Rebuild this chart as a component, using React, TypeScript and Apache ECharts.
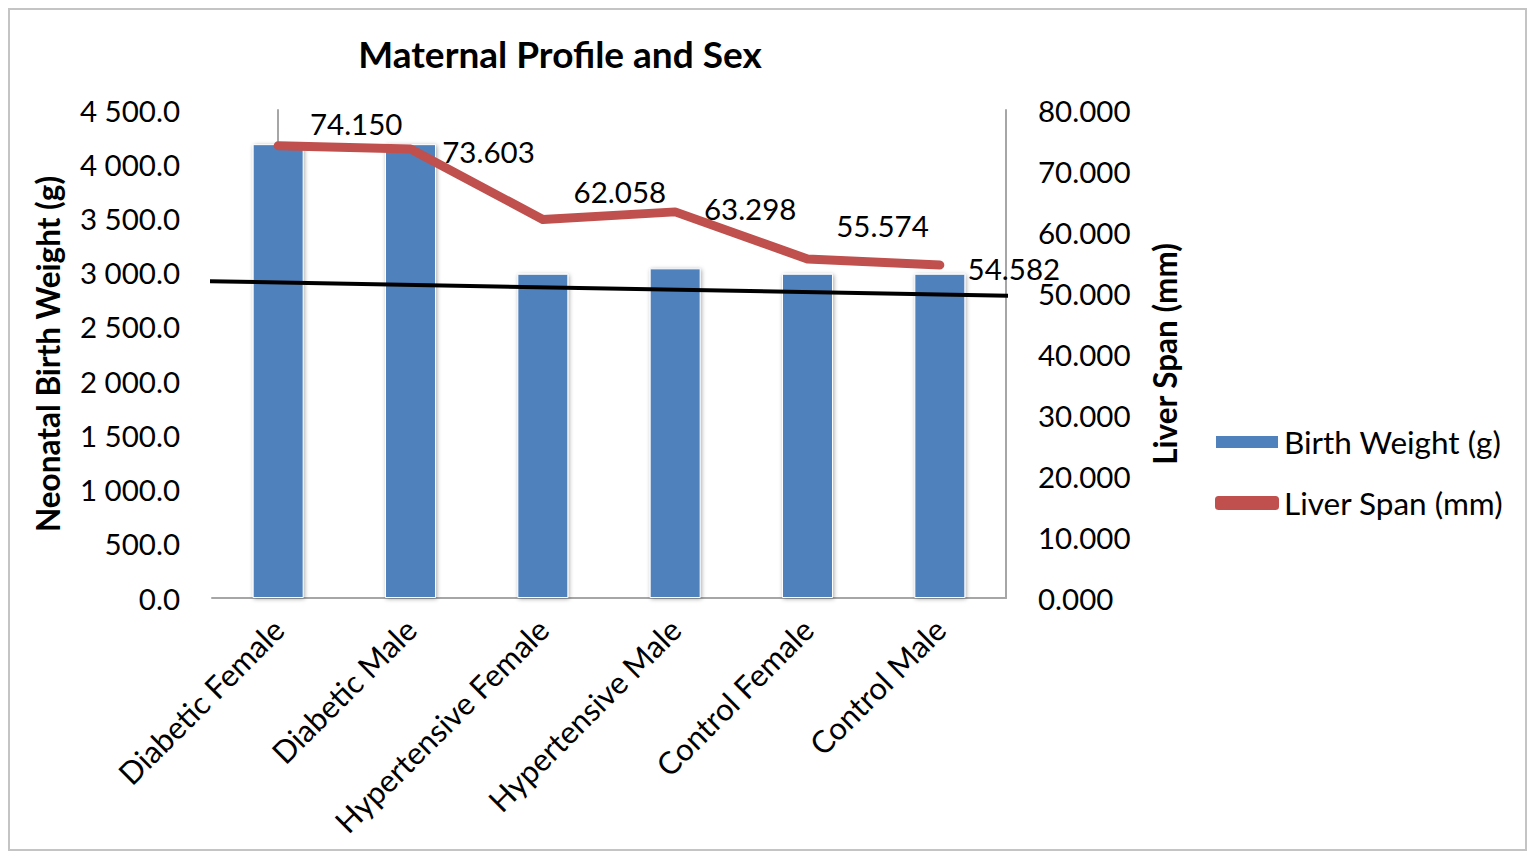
import React, { useEffect, useRef } from "react";
import * as echarts from "echarts";

const categories = [
  "Diabetic Female",
  "Diabetic Male",
  "Hypertensive Female",
  "Hypertensive Male",
  "Control Female",
  "Control Male",
];
const birthWeight = [4185, 4185, 2990, 3040, 2990, 2990];
const liverSpan = [74.15, 73.603, 62.058, 63.298, 55.574, 54.582];
const trendX = [-0.53, 5.53];
const trendY = [2922, 2786];
const labelOffsets = [
  [78, -22],
  [78, 2],
  [77, -28],
  [75, -3],
  [75, -33],
  [74, 3],
];

const FONT = "Lato";

function fmtLeft(v: number) {
  const s = v.toFixed(1);
  const [i, d] = s.split(".");
  return i.replace(/\B(?=(\d{3})+(?!\d))/g, " ") + "." + d;
}

export default function App() {
  const ref = useRef<HTMLDivElement>(null);
  useEffect(() => {
    if (!ref.current) return;
    const chart = echarts.init(ref.current, undefined, { renderer: "svg" });
    chart.setOption({
      animation: false,
      backgroundColor: "#fff",
      textStyle: { fontFamily: FONT, color: "#000" },
      title: {
        text: "Maternal Profile and Sex",
        left: 545,
        top: 20,
        textAlign: "center",
        textStyle: { fontFamily: FONT, fontSize: 37, fontWeight: "bold", color: "#000" },
      },
      legend: {
        orient: "vertical",
        left: 1199,
        top: 411,
        itemWidth: 64,
        itemHeight: 14,
        itemGap: 29,
        textStyle: { fontFamily: FONT, fontSize: 31.5, color: "#000", padding: [0, 0, 0, 0] },
        data: [
          { name: "Birth Weight (g)", icon: "rect" },
          { name: "Liver Span (mm)", icon: "roundRect" },
        ],
      },
      grid: { left: 202, top: 100, width: 794, height: 488, containLabel: false },
      xAxis: [
        {
          type: "category",
          data: categories,
          axisLine: { lineStyle: { color: "#a6a6a6", width: 2 } },
          axisTick: { show: false },
          axisLabel: {
            rotate: 45,
            interval: 0,
            margin: 26,
            fontSize: 31,
            color: "#000",
            fontFamily: FONT,
          },
        },
        {
          type: "value",
          min: -0.5,
          max: 5.5,
          show: false,
          position: "bottom",
        },
      ],
      yAxis: [
        {
          type: "value",
          min: 0,
          max: 4500,
          interval: 500,
          name: "Neonatal Birth Weight (g)",
          nameLocation: "middle",
          nameGap: 148,
          nameTextStyle: { fontFamily: FONT, fontSize: 31.5, fontWeight: "bold", color: "#000" },
          axisLine: { show: true, lineStyle: { color: "#a6a6a6", width: 2 } },
          axisTick: { show: false },
          splitLine: { show: false },
          axisLabel: {
            margin: 32,
            fontSize: 29.5,
            color: "#000",
            fontFamily: FONT,
            formatter: (v: number) => fmtLeft(v),
          },
        },
        {
          type: "value",
          min: 0,
          max: 80,
          interval: 10,
          name: "Liver Span (mm)",
          nameLocation: "middle",
          nameGap: 143,
          nameTextStyle: { fontFamily: FONT, fontSize: 31.5, fontWeight: "bold", color: "#000" },
          axisLine: { show: true, lineStyle: { color: "#a6a6a6", width: 2 } },
          axisTick: { show: false },
          splitLine: { show: false },
          axisLabel: {
            margin: 32,
            fontSize: 29.5,
            color: "#000",
            fontFamily: FONT,
            formatter: (v: number) => v.toFixed(3),
          },
        },
      ],
      series: [
        {
          name: "Birth Weight (g)",
          type: "bar",
          xAxisIndex: 0,
          yAxisIndex: 0,
          data: birthWeight,
          barWidth: 51,
          itemStyle: {
            color: "#4F81BD",
            borderColor: "#ffffff",
            borderWidth: 1,
            shadowColor: "rgba(0,0,0,0.35)",
            shadowBlur: 4,
            shadowOffsetX: 1,
            shadowOffsetY: 1,
          },
        },
        {
          name: "Liver Span (mm)",
          type: "line",
          xAxisIndex: 0,
          yAxisIndex: 1,
          data: liverSpan.map((v, i) => ({
            value: v,
            label: { offset: labelOffsets[i] },
          })),
          symbol: "circle",
          symbolSize: 2,
          showSymbol: true,
          itemStyle: { color: "#C0504D" },
          lineStyle: { color: "#C0504D", width: 9, cap: "round", join: "round" },
          label: {
            show: true,
            position: "inside",
            fontSize: 29.5,
            color: "#000",
            fontFamily: FONT,
            formatter: (p: any) => Number(p.value).toFixed(3),
          },
          z: 3,
        },
        {
          name: "trend",
          type: "line",
          xAxisIndex: 1,
          yAxisIndex: 0,
          data: trendX.map((x, i) => [x, trendY[i]]),
          symbol: "none",
          clip: false,
          lineStyle: { color: "#000", width: 4 },
          silent: true,
          z: 4,
        },
      ],
    });
    return () => chart.dispose();
  }, []);
  return (
    <div
      ref={ref}
      style={{
        width: 1519,
        height: 843,
        border: "2px solid #c4c4c4",
        boxSizing: "border-box",
      }}
    />
  );
}
